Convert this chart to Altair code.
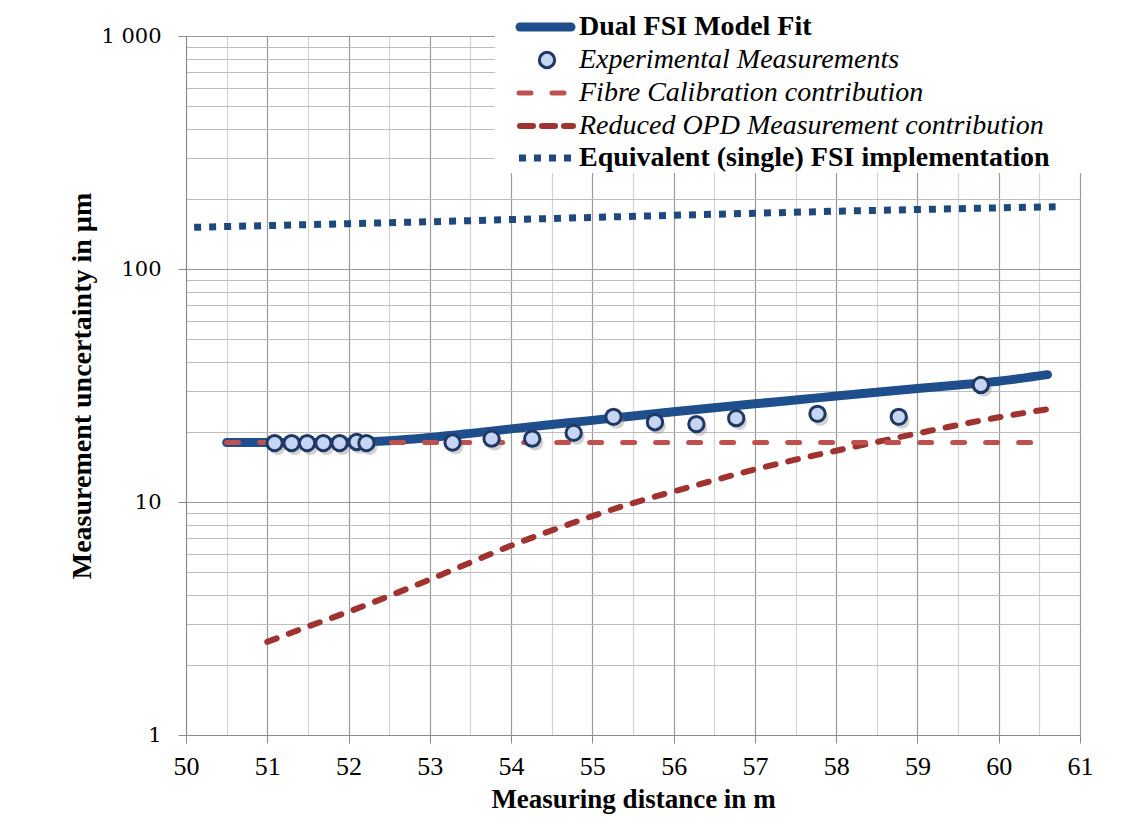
import altair as alt
import pandas as pd

# ---------------- data ----------------
dist_fit = [50.5, 51.0, 51.5, 52.0, 52.5, 53.0, 53.5, 54.0, 54.5, 55.0, 55.5,
            56.0, 56.5, 57.0, 57.5, 58.0, 58.5, 59.0, 59.5, 60.0, 60.6]
dual_fit = [18.0, 18.0, 18.0, 18.05, 18.3, 18.9, 19.7, 20.6, 21.5, 22.4, 23.4,
            24.4, 25.4, 26.4, 27.4, 28.5, 29.6, 30.7, 31.8, 33.0, 35.2]

fibre_x = [50.5, 60.6]
fibre_y = [18.0, 18.0]

opd_x = [51.0, 51.5, 52.0, 52.5, 53.0, 53.5, 54.0, 54.5, 55.0, 55.5,
         56.0, 56.5, 57.0, 57.5, 58.0, 58.5, 59.0, 59.5, 60.0, 60.6]
opd_y = [2.51, 2.92, 3.38, 3.95, 4.65, 5.5, 6.5, 7.55, 8.7, 9.9,
         11.1, 12.4, 13.8, 15.2, 16.6, 18.1, 19.7, 21.4, 23.1, 25.0]

equiv_x = [50.1, 51, 52, 53, 54, 55, 56, 57, 58, 59, 60, 60.7]
equiv_y = [151, 153.5, 156.5, 159.5, 163, 166.5, 170, 173.5, 177, 180, 183, 185]

meas_x = [51.09, 51.30, 51.49, 51.69, 51.89, 52.10, 52.22, 53.28, 53.76, 54.26,
          54.77, 55.26, 55.77, 56.28, 56.77, 57.77, 58.77, 59.78]
meas_y = [17.9, 17.9, 17.9, 17.9, 17.9, 18.1, 17.9, 18.0, 18.7, 18.7,
          19.8, 23.2, 22.0, 21.6, 22.9, 23.9, 23.2, 31.8]

x_ticks = [50 + 0.5 * i for i in range(23)]
y_ticks = [m * 10 ** e for e in range(3) for m in range(1, 10)] + [1000]

legend_labels = ["Dual FSI Model Fit",
                 "Experimental Measurements",
                 "Fibre Calibration contribution",
                 "Reduced OPD Measurement contribution",
                 "Equivalent (single) FSI implementation"]

# ---------------- styling ----------------
W, H = 894, 699
NAVY = "#1F4E8C"
NAVY_DOT = "#1F497D"
RED_LIGHT = "#C0504D"
RED_DARK = "#A0332F"
PT_FILL = "#C6D6F2"
PT_STROKE = "#1F3864"
SERIF = "Liberation Serif"

xscale = alt.Scale(domain=[50, 61], nice=False, zero=False)
yscale = alt.Scale(type="log", domain=[1, 1000], nice=False)

xaxis = alt.Axis(
    values=x_ticks,
    labelExpr="datum.value % 1 === 0 ? format(datum.value, 'd') : ''",
    title="Measuring distance in m",
    grid=True,
    gridColor={"condition": {"test": "datum.value % 1 === 0", "value": "#9A9A9A"},
               "value": "#D2D2D2"},
    gridWidth=1.2,
    tickOpacity={"condition": {"test": "datum.value % 1 === 0", "value": 1},
                 "value": 0},
    tickColor="#8A8A8A", tickSize=8,
    domainColor="#8A8A8A",
    labelFont=SERIF, labelFontSize=26, labelColor="black", labelPadding=10,
    labelFlush=False, labelOverlap=False,
    titleFont=SERIF, titleFontSize=27, titleFontWeight="bold", titleColor="black",
    titlePadding=7,
)

yaxis = alt.Axis(
    values=y_ticks,
    labelExpr="datum.value == 1000 ? '1 000' : datum.value == 100 ? '100' : "
              "datum.value == 10 ? '10' : datum.value == 1 ? '1' : ''",
    title="Measurement uncertainty in µm",
    grid=True,
    gridColor={"condition": {"test": "indexof([1,10,100,1000], datum.value) >= 0",
                             "value": "#9A9A9A"},
               "value": "#BDBDBD"},
    gridWidth=1.2,
    tickOpacity={"condition": {"test": "indexof([1,10,100,1000], datum.value) >= 0",
                               "value": 1},
                 "value": 0},
    tickColor="#8A8A8A", tickSize=8,
    domainColor="#8A8A8A",
    labelFont="DejaVu Serif", labelFontSize=21, labelColor="black", labelPadding=17,
    labelFlush=False, labelOverlap=False,
    titleFont=SERIF, titleFontSize=28, titleFontWeight="bold", titleColor="black",
    titleX=-104, titleY=H / 2, titleAlign="center", titleBaseline="middle",
)


def xy(xcol, ycol):
    return dict(
        x=alt.X(f"{xcol}:Q", scale=xscale, axis=xaxis),
        y=alt.Y(f"{ycol}:Q", scale=yscale, axis=yaxis),
    )


df_fit = pd.DataFrame({"d": dist_fit, "u": dual_fit})
df_fibre = pd.DataFrame({"d": fibre_x, "u": fibre_y})
df_opd = pd.DataFrame({"d": opd_x, "u": opd_y})
df_eq = pd.DataFrame({"d": equiv_x, "u": equiv_y})
df_meas = pd.DataFrame({"d": meas_x, "u": meas_y})

equiv = alt.Chart(df_eq).mark_line(
    color=NAVY_DOT, strokeWidth=7, strokeDash=[7, 8], strokeCap="butt"
).encode(**xy("d", "u"))

dual = alt.Chart(df_fit).mark_line(
    color=NAVY, strokeWidth=9, strokeCap="round", strokeJoin="round",
    interpolate="monotone"
).encode(**xy("d", "u"))

opd = alt.Chart(df_opd).mark_line(
    color=RED_DARK, strokeWidth=6, strokeDash=[10, 13], strokeCap="round",
    interpolate="monotone"
).encode(**xy("d", "u"))

fibre = alt.Chart(df_fibre).mark_line(
    color=RED_LIGHT, strokeWidth=5, strokeDash=[12, 21], strokeCap="round"
).encode(**xy("d", "u"))

shadow = alt.Chart(df_meas).mark_circle(
    color="#7F7F7F", opacity=0.35, size=250, xOffset=3, yOffset=4
).encode(**xy("d", "u"))

meas = alt.Chart(df_meas).mark_circle(
    fill=PT_FILL, stroke=PT_STROKE, strokeWidth=3, opacity=1, size=235
).encode(**xy("d", "u"))

# ---------------- legend (drawn inside the plot, top right) ----------------
one = pd.DataFrame({"k": [0]})
LY = [-9, 24, 57, 90, 122]
SX0, SX1, TX = 331, 387, 393

legend_box = alt.Chart(one).mark_rect(fill="white", opacity=1).encode(
    x=alt.value(309), x2=alt.value(905), y=alt.value(-34), y2=alt.value(137)
)

sym_dual = alt.Chart(one).mark_rule(color=NAVY, strokeWidth=9, strokeCap="round").encode(
    x=alt.value(SX0 + 3), x2=alt.value(SX1 - 2), y=alt.value(LY[0])
)
sym_meas = alt.Chart(one).mark_circle(
    fill=PT_FILL, stroke=PT_STROKE, strokeWidth=3, opacity=1, size=235
).encode(x=alt.value(361), y=alt.value(LY[1]))
sym_fibre = alt.Chart(one).mark_rule(
    color=RED_LIGHT, strokeWidth=5, strokeDash=[12, 21], strokeCap="round"
).encode(x=alt.value(SX0 + 2), x2=alt.value(SX1), y=alt.value(LY[2]))
sym_opd = alt.Chart(one).mark_rule(
    color=RED_DARK, strokeWidth=6, strokeDash=[13, 9], strokeCap="round"
).encode(x=alt.value(SX0 + 3), x2=alt.value(SX1), y=alt.value(LY[3]))
sym_eq = alt.Chart(one).mark_rule(
    color=NAVY_DOT, strokeWidth=7, strokeDash=[7, 8], strokeCap="butt"
).encode(x=alt.value(SX0 + 2), x2=alt.value(SX1), y=alt.value(LY[4]))

styles = [("bold", "normal"), ("normal", "italic"), ("normal", "italic"),
          ("normal", "italic"), ("bold", "normal")]
texts = []
for lab, yy, (fw, fs) in zip(legend_labels, LY, styles):
    texts.append(
        alt.Chart(one).mark_text(
            align="left", baseline="middle", font=SERIF, fontSize=28,
            fontWeight=fw, fontStyle=fs, color="black"
        ).encode(x=alt.value(TX), y=alt.value(yy), text=alt.value(lab))
    )

chart = alt.layer(
    equiv, dual, opd, fibre, shadow, meas,
    legend_box, sym_dual, sym_meas, sym_fibre, sym_opd, sym_eq, *texts
).properties(
    width=W, height=H,
    padding={"left": 178, "top": 28, "right": 40, "bottom": 79},
    autosize=alt.AutoSizeParams(type="none"),
).configure_view(stroke=None).configure(background="white")

chart.save("out.html", embed_options={"renderer": "svg", "actions": False})
